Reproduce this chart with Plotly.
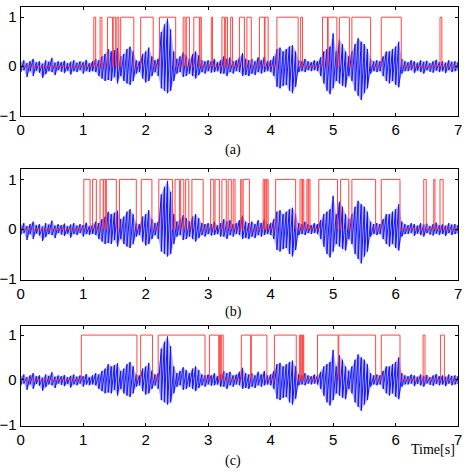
import plotly.graph_objects as go

# ---------------- data ----------------
# speech waveform envelope, sampled every 0.05 s from 0 to 7 s (same signal in all panels)
wave_step = 0.05
wave_upper = [
    0.08, 0.12, 0.06, 0.10, 0.15, 0.08, 0.10, 0.05, 0.12, 0.09, 0.17, 0.07, 0.10, 0.08, 0.11, 0.06,
    0.09, 0.12, 0.07, 0.10, 0.08, 0.13, 0.06,
    0.10, 0.15, 0.12, 0.20, 0.25, 0.35, 0.30, 0.33, 0.37, 0.20,
    0.25, 0.35, 0.40, 0.30, 0.12, 0.10, 0.25, 0.30, 0.38, 0.20,
    0.12, 0.15, 0.70, 0.85, 0.97, 0.75, 0.30, 0.15, 0.20, 0.28,
    0.22, 0.15, 0.25, 0.30, 0.22, 0.12, 0.10, 0.12, 0.10, 0.15,
    0.08, 0.12, 0.20, 0.15, 0.18, 0.10, 0.12, 0.18, 0.27, 0.15,
    0.12, 0.15, 0.10, 0.18, 0.12, 0.20, 0.10, 0.12, 0.20, 0.35,
    0.38, 0.30, 0.35, 0.40, 0.43, 0.30, 0.12, 0.10, 0.15, 0.10,
    0.08, 0.12, 0.10, 0.18, 0.30, 0.35, 0.40, 0.67, 0.30, 0.55,
    0.45, 0.30, 0.20, 0.30, 0.45, 0.57, 0.50, 0.45, 0.35, 0.15,
    0.10, 0.12, 0.10, 0.20, 0.30, 0.30, 0.35, 0.40, 0.50, 0.15,
    0.10,
    0.08, 0.12, 0.10, 0.07, 0.12, 0.09, 0.11, 0.06, 0.10, 0.13, 0.08, 0.10, 0.07, 0.12, 0.09, 0.10, 0.08,
]
wave_lower = [
    -0.12, -0.08, -0.22, -0.10, -0.20, -0.09, -0.13, -0.24, -0.16, -0.10, -0.12, -0.18, -0.08, -0.11,
    -0.14, -0.09, -0.17, -0.10, -0.12, -0.08, -0.15, -0.10, -0.12,
    -0.10, -0.12, -0.20, -0.25, -0.30, -0.28, -0.30, -0.22, -0.35, -0.20,
    -0.30, -0.35, -0.38, -0.30, -0.15, -0.12, -0.25, -0.33, -0.30, -0.20,
    -0.12, -0.20, -0.45, -0.50, -0.55, -0.50, -0.30, -0.15, -0.12, -0.22,
    -0.20, -0.15, -0.20, -0.25, -0.18, -0.12, -0.15, -0.10, -0.13, -0.12,
    -0.10, -0.15, -0.15, -0.20, -0.12, -0.15, -0.10, -0.12, -0.20, -0.18,
    -0.20, -0.15, -0.18, -0.12, -0.15, -0.12, -0.10, -0.12, -0.20, -0.42,
    -0.45, -0.40, -0.38, -0.50, -0.55, -0.42, -0.12, -0.10, -0.12, -0.08,
    -0.10, -0.08, -0.10, -0.20, -0.35, -0.50, -0.57, -0.45, -0.30, -0.35,
    -0.40, -0.43, -0.20, -0.30, -0.50, -0.60, -0.69, -0.55, -0.45, -0.15,
    -0.10, -0.12, -0.10, -0.20, -0.30, -0.35, -0.30, -0.38, -0.43, -0.15,
    -0.10,
    -0.10, -0.08, -0.14, -0.09, -0.12, -0.15, -0.08, -0.11, -0.13, -0.09, -0.12, -0.10, -0.14, -0.08,
    -0.12, -0.10, -0.09,
]

# voice-activity decisions (start, end) in seconds, value 1 inside
vad_a = [(1.17, 1.20), (1.27, 1.30), (1.39, 1.47), (1.48, 1.52), (1.54, 1.57), (1.60, 1.81),
         (1.92, 2.12), (2.22, 2.48), (2.60, 2.63), (2.65, 2.70), (2.77, 2.86), (2.87, 2.89),
         (3.05, 3.07), (3.22, 3.26), (3.28, 3.31), (3.36, 3.39), (3.50, 3.58), (3.62, 3.69),
         (3.82, 3.90), (3.91, 3.96), (4.10, 4.44), (4.48, 4.51), (4.83, 4.91), (4.92, 5.06),
         (5.10, 5.26), (5.30, 5.60), (5.77, 6.09), (6.71, 6.74)]
vad_b = [(1.01, 1.11), (1.15, 1.21), (1.27, 1.32), (1.33, 1.36), (1.37, 1.53), (1.58, 1.85),
         (1.93, 2.10), (2.21, 2.43), (2.47, 2.54), (2.56, 2.61), (2.64, 2.69), (2.74, 2.92),
         (3.04, 3.09), (3.11, 3.18), (3.22, 3.29), (3.32, 3.37), (3.40, 3.43), (3.52, 3.54),
         (3.56, 3.66), (3.88, 3.90), (3.91, 3.93), (3.94, 3.96), (4.08, 4.40), (4.47, 4.50),
         (4.51, 4.53), (4.58, 4.60), (4.61, 4.63), (4.77, 5.07), (5.12, 5.25), (5.30, 5.68),
         (5.77, 6.07), (6.45, 6.49), (6.61, 6.63), (6.71, 6.76)]
vad_c = [(0.97, 1.86), (1.92, 2.11), (2.20, 2.95), (3.02, 3.17), (3.18, 3.20), (3.21, 3.24),
         (3.53, 3.68), (3.69, 3.94), (4.06, 4.41), (4.46, 4.48), (4.49, 4.51), (4.52, 4.53),
         (4.75, 5.08), (5.09, 5.68), (5.77, 6.07), (6.44, 6.47), (6.72, 6.78)]

panel_labels = ["(a)", "(b)", "(c)"]
x_ticks = [0, 1, 2, 3, 4, 5, 6, 7]
y_ticks = [-1, 0, 1]
t_end = 7.0

# ---------------- build ----------------
W, H = 469, 475
wave_t = [round(i * wave_step, 3) for i in range(len(wave_upper))]
wave_x, wave_y = [], []
for t, u, l in zip(wave_t, wave_upper, wave_lower):
    wave_x += [t, t]
    wave_y += [u, l]
band_x = wave_t + wave_t[::-1]
band_y = wave_upper + wave_lower[::-1]


def step_xy(intervals):
    xs, ys = [0.0], [0]
    for a, b in intervals:
        xs += [a, a, b, b]
        ys += [0, 1, 1, 0]
    xs.append(t_end)
    ys.append(0)
    return xs, ys


fig = go.Figure()
boxes = [(7.5, 118), (172, 284), (331, 432)]   # (top, bottom) pixel rows of each panel
x_dom = [17 / W, 462 / W]
label_y_px = [152, 317, 468]
for k, vad in enumerate([vad_a, vad_b, vad_c]):
    ax = "" if k == 0 else str(k + 1)
    fig.add_trace(go.Scatter(x=band_x, y=band_y, mode="lines", fill="toself",
                             fillcolor="rgba(60,60,255,0.38)", line=dict(width=0),
                             xaxis="x" + ax, yaxis="y" + ax, hoverinfo="skip"))
    fig.add_trace(go.Scatter(x=wave_x, y=wave_y, mode="lines",
                             line=dict(color="rgb(20,20,255)", width=1),
                             xaxis="x" + ax, yaxis="y" + ax, hoverinfo="skip"))
    sx, sy = step_xy(vad)
    fig.add_trace(go.Scatter(x=sx, y=sy, mode="lines",
                             line=dict(color="rgb(255,50,50)", width=1),
                             opacity=0.9,
                             xaxis="x" + ax, yaxis="y" + ax, hoverinfo="skip"))
    top, bot = boxes[k]
    common = dict(showline=True, linecolor="black", linewidth=1, mirror="allticks",
                  ticks="inside", ticklen=3, tickcolor="black", showgrid=False,
                  zeroline=False,
                  tickfont=dict(family="Liberation Sans, Arial", size=15, color="black"))
    fig.update_layout(**{
        "xaxis" + ax: dict(domain=x_dom, range=[0, t_end], tickvals=x_ticks,
                           anchor="y" + ax, **common),
        "yaxis" + ax: dict(domain=[1 - bot / H, 1 - top / H], range=[-1.02, 1.2],
                           tickvals=y_ticks, anchor="x" + ax, **common),
    })
    fig.add_annotation(text=panel_labels[k], x=233 / W, y=1 - label_y_px[k] / H,
                       xref="paper", yref="paper", showarrow=False,
                       xanchor="center", yanchor="middle",
                       font=dict(family="Liberation Serif, Times New Roman", size=14, color="black"))

fig.add_annotation(text="Time[s]", x=436 / W, y=1 - 456 / H, xref="paper", yref="paper",
                   showarrow=False, xanchor="center", yanchor="middle",
                   font=dict(family="Liberation Serif, Times New Roman", size=14, color="black"))

fig.update_layout(width=W, height=H, margin=dict(l=0, r=0, t=0, b=0),
                  paper_bgcolor="white", plot_bgcolor="white", showlegend=False)
fig.write_html("out.html")
